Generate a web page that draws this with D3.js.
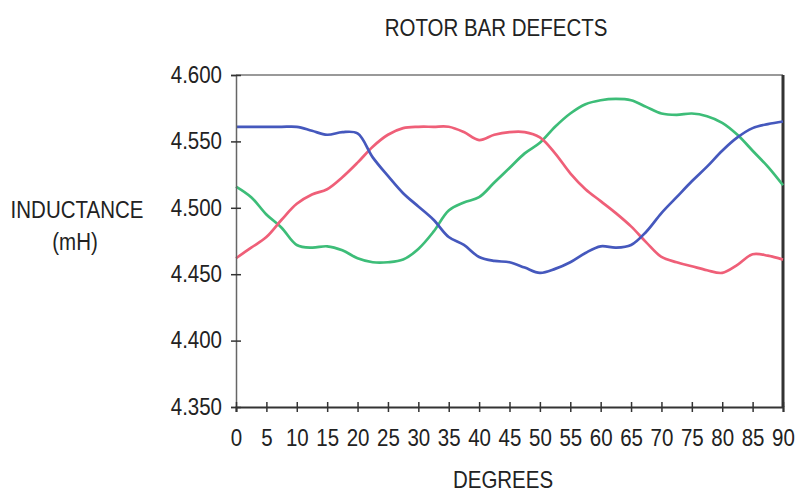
<!DOCTYPE html>
<html>
<head>
<meta charset="utf-8">
<script src="https://cdn.jsdelivr.net/npm/d3@7"></script>
<style>
	body { margin: 0; background: #fff; }
	text { font-family: "Liberation Sans", Arial, sans-serif; fill: #222; }
</style>
</head>
<body>
<svg id="chart" width="806" height="492"></svg>
<script>
// Rotor position, degrees (sampled every 2.5)
let degrees = d3.range(0, 90.01, 2.5)
let xTicks = d3.range(0, 91, 5)
let yTicks = [4.35, 4.40, 4.45, 4.50, 4.55, 4.60]

// Inductance (mH), one array per phase
let blue = [4.561, 4.561, 4.561, 4.561, 4.561, 4.558, 4.555, 4.557, 4.556, 4.538,
	4.524, 4.511, 4.501, 4.491, 4.478, 4.472, 4.463, 4.460, 4.459, 4.455,
	4.451, 4.454, 4.459, 4.466, 4.471, 4.470, 4.472, 4.482, 4.496, 4.508,
	4.520, 4.531, 4.543, 4.553, 4.560, 4.563, 4.565]
let red = [4.462, 4.470, 4.478, 4.491, 4.503, 4.510, 4.514, 4.523, 4.534, 4.546,
	4.555, 4.560, 4.561, 4.561, 4.561, 4.557, 4.551, 4.555, 4.557, 4.557,
	4.553, 4.541, 4.526, 4.514, 4.505, 4.496, 4.486, 4.474, 4.463, 4.459,
	4.456, 4.453, 4.451, 4.457, 4.465, 4.464, 4.461]
let green = [4.516, 4.508, 4.495, 4.485, 4.472, 4.470, 4.471, 4.468, 4.462, 4.459,
	4.459, 4.461, 4.469, 4.482, 4.498, 4.504, 4.508, 4.519, 4.530, 4.541,
	4.549, 4.561, 4.571, 4.578, 4.581, 4.582, 4.581, 4.576, 4.571, 4.570,
	4.571, 4.569, 4.564, 4.555, 4.543, 4.531, 4.517]

let series = [
	{ name: "green", colour: "#3dbd78", values: green },
	{ name: "red", colour: "#ef5f78", values: red },
	{ name: "blue", colour: "#4558bd", values: blue },
]

let svg = d3.select("#chart")
let margin = { top: 75, right: 23, bottom: 85, left: 236 }
let width = 806 - margin.left - margin.right
let height = 492 - margin.top - margin.bottom
let fontSize = 20.5
let stretch = 1.2   // the original lettering is tall and narrow

let x = d3.scaleLinear().domain([0, 90]).range([0, width])
let y = d3.scaleLinear().domain([4.35, 4.60]).range([height, 0])

let g = svg.append("g")
	.attr("transform", `translate(${margin.left},${margin.top})`)

// Frame: light top edge, heavy right edge
g.append("line")
	.attr("x1", 0).attr("x2", width)
	.attr("y1", 0).attr("y2", 0)
	.attr("stroke", "#777").attr("stroke-width", 1.5)
g.append("line")
	.attr("x1", width).attr("x2", width)
	.attr("y1", 0).attr("y2", height)
	.attr("stroke", "#333").attr("stroke-width", 3)

// Lines
let line = d3.line()
	.x((d, i) => x(degrees[i]))
	.y(d => y(d))
	.curve(d3.curveCatmullRom)

g.selectAll("path.series")
	.data(series)
	.join("path")
	.attr("class", "series")
	.attr("fill", "none")
	.attr("stroke", d => d.colour)
	.attr("stroke-width", 2.7)
	.attr("stroke-linejoin", "round")
	.attr("d", d => line(d.values))

// Axes, with ticks that cross the axis line
let yAxis = g.append("g")
	.call(d3.axisLeft(y).tickValues(yTicks).tickFormat(d3.format(".3f")).tickSize(5).tickPadding(9))
let xAxis = g.append("g")
	.attr("transform", `translate(0,${height})`)
	.call(d3.axisBottom(x).tickValues(xTicks).tickSize(5))

yAxis.select(".domain").attr("stroke", "#666").attr("stroke-width", 1.5)
yAxis.selectAll(".tick line").attr("x2", -5).attr("x1", 5).attr("stroke", "#333").attr("stroke-width", 1.5)
xAxis.select(".domain").attr("stroke", "#333").attr("stroke-width", 2)
xAxis.selectAll(".tick line").attr("y1", -5).attr("y2", 5).attr("stroke", "#333").attr("stroke-width", 1.5)

g.selectAll(".tick text")
	.style("font-size", `${fontSize}px`)
	.style("font-family", "'Liberation Sans', Arial, sans-serif")
	.attr("fill", "#222")
	.attr("transform", `scale(1,${stretch})`)
yAxis.selectAll(".tick text").attr("dy", "0.3em")
xAxis.selectAll(".tick text").attr("y", 22 / stretch)

// Titles
function label(text, px, py) {
	svg.append("text")
		.attr("transform", `translate(${px},${py}) scale(1,${stretch})`)
		.attr("text-anchor", "middle")
		.style("font-size", `${fontSize}px`)
		.text(text)
}
label("ROTOR BAR DEFECTS", 496, 36)
label("DEGREES", 503, 488)
label("INDUCTANCE", 77, 218)
label("(mH)", 75, 250)
</script>
</body>
</html>
